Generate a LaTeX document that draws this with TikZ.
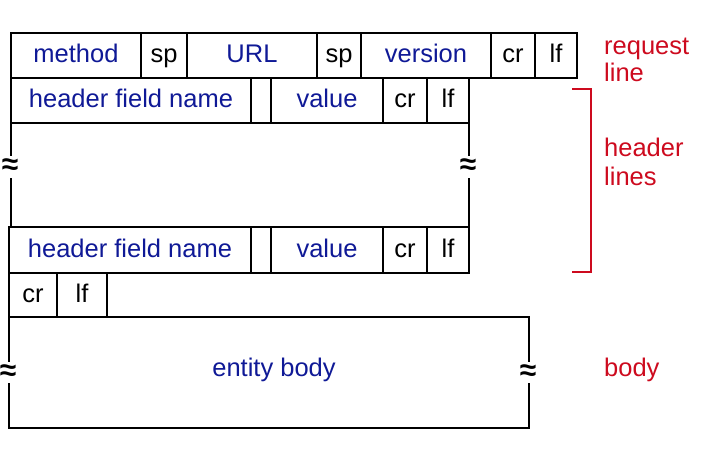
\documentclass[tikz,border=0pt]{standalone}
\usepackage{fontspec}
\setmainfont{Liberation Sans}
\definecolor{fieldblue}{RGB}{15,25,150}
\definecolor{notered}{RGB}{205,10,30}
\begin{document}
\begin{tikzpicture}[x=1pt,y=-1pt,
  cell/.style={draw, line width=2pt, inner sep=0pt, outer sep=0pt,
    text height=18pt, text depth=3pt, font=\fontsize{25.5}{30}\selectfont},
  fld/.style={cell, text=fieldblue},
  ctl/.style={cell, text=black},
  frame/.style={line width=2pt},
  brk/.style={fill=white, inner xsep=0pt, inner ysep=3pt,
    font=\fontsize{30}{30}\selectfont\bfseries},
  note/.style={anchor=base west, inner sep=0pt, text=notered,
    font=\fontsize{25.5}{30}\selectfont},
]
\useasboundingbox (0,0) rectangle (724,462);

% request line
\node[fld, minimum width=130pt, minimum height=45pt] (method) at (76,55.5) {method};
\node[ctl, minimum width=46pt,  minimum height=45pt] (sp1)    at (164,55.5) {sp\hspace{6pt}};
\node[fld, minimum width=130pt, minimum height=45pt] (url)    at (252,55.5) {URL\hspace{10pt}};
\node[ctl, minimum width=44pt,  minimum height=45pt] (sp2)    at (339,55.5) {sp};
\node[fld, minimum width=130pt, minimum height=45pt] (ver)    at (426,55.5) {version};
\node[ctl, minimum width=44pt,  minimum height=45pt] (rcr)    at (513,55.5) {cr};
\node[ctl, minimum width=42pt,  minimum height=45pt] (rlf)    at (556,55.5) {lf};

% first header line
\node[fld, minimum width=240pt, minimum height=45pt] (hAname) at (131,100.5) {header field name};
\node[ctl, minimum width=20pt,  minimum height=45pt] (hAgap)  at (261,100.5) {};
\node[fld, minimum width=112pt, minimum height=45pt] (hAval)  at (327,100.5) {value};
\node[ctl, minimum width=44pt,  minimum height=45pt] (hAcr)   at (405,100.5) {cr};
\node[ctl, minimum width=42pt,  minimum height=45pt] (hAlf)   at (448,100.5) {lf};

% last header line
\node[fld, minimum width=242pt, minimum height=46pt] (hBname) at (130,250) {header field name};
\node[ctl, minimum width=20pt,  minimum height=46pt] (hBgap)  at (261,250) {};
\node[fld, minimum width=112pt, minimum height=46pt] (hBval)  at (327,250) {value};
\node[ctl, minimum width=44pt,  minimum height=46pt] (hBcr)   at (405,250) {cr};
\node[ctl, minimum width=42pt,  minimum height=46pt] (hBlf)   at (448,250) {lf};

% omitted header lines in between
\draw[frame] (hAname.south west) -- (hAname.south west |- hBname.north);
\draw[frame] (hAlf.south east) -- (hBlf.north east);
\node[brk] (skipL) at (10,167) {≈};
\node[brk] (skipR) at (468,167) {≈};

% blank line
\node[ctl, minimum width=48pt, minimum height=44pt] (ecr) at (33,295) {cr};
\node[ctl, minimum width=50pt, minimum height=44pt] (elf) at (82,295) {lf\hspace{8pt}};

% entity body
\node[cell, minimum width=520pt, minimum height=111pt] (body) at (269,372.5) {};
\node[anchor=base, inner sep=0pt, text=fieldblue, font=\fontsize{25.5}{30}\selectfont]
  (bodytext) at (274,377) {entity body};
\node[brk] (bodyL) at ([xshift=-1pt]body.west) {≈};
\node[brk] (bodyR) at ([xshift=-1pt]body.east) {≈};

% annotations
\node[note] (reqA) at (604,55) {request};
\node[note] (reqB) at (604,82) {line};
\node[note] (hdrA) at (604,157) {header};
\node[note] (hdrB) at (604,186) {lines};
\node[note] (bodyN) at (604,377) {body};

\coordinate (brTop) at (572,89);
\coordinate (brBot) at (572,272.5);
\draw[notered, line width=2pt] (brTop) -- (591,89) |- (brBot);
\end{tikzpicture}
\end{document}
